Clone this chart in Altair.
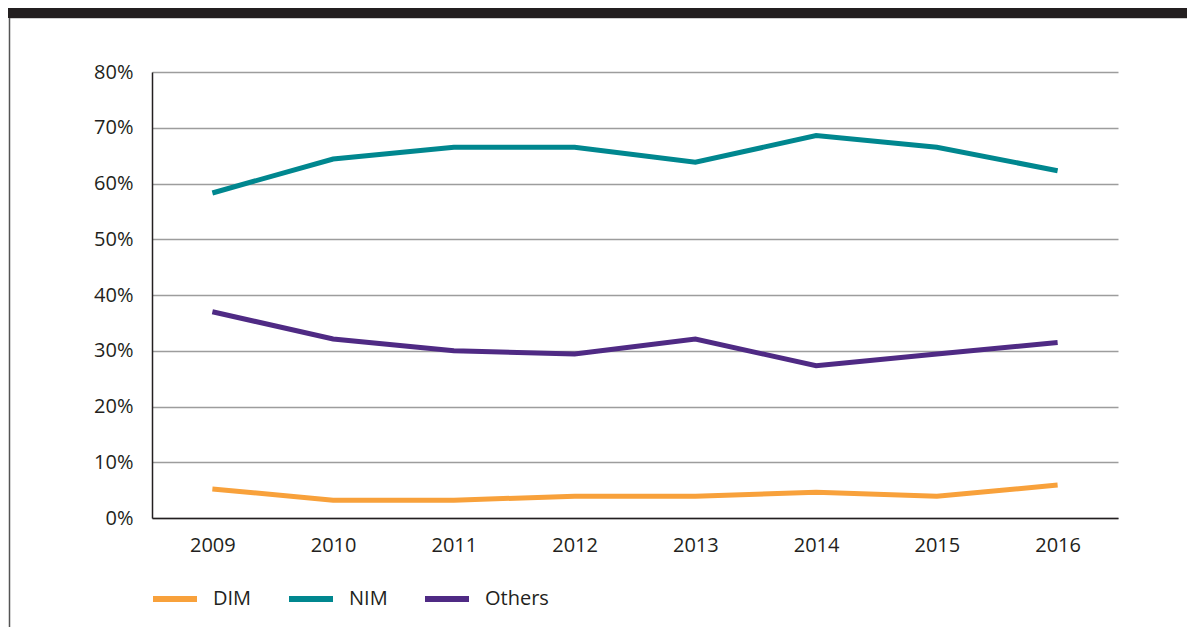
import altair as alt
import pandas as pd

years = ["2009", "2010", "2011", "2012", "2013", "2014", "2015", "2016"]
dim = [5.2, 3.2, 3.2, 3.9, 3.9, 4.6, 3.9, 5.9]
nim = [58.3, 64.4, 66.5, 66.5, 63.8, 68.6, 66.5, 62.3]
others = [37.0, 32.1, 30.0, 29.4, 32.1, 27.3, 29.4, 31.5]
series_names = ["DIM", "NIM", "Others"]
series_colors = ["#F8A13B", "#00878F", "#4F2A84"]
y_ticks = [0, 10, 20, 30, 40, 50, 60, 70, 80]

rows = []
for name, vals in zip(series_names, [dim, nim, others]):
    for yr, v in zip(years, vals):
        rows.append({"Year": yr, "Series": name, "Share": v})
df = pd.DataFrame(rows)

FONT = "Open Sans"
TXT = "#231f20"
FS = 20
W, H = 966, 446
PL, PT, PR, PB = 144, 64, 1179 - 144 - 966, 619 - 64 - 446

lines = alt.Chart(df).mark_line(strokeWidth=5, strokeCap="butt", strokeJoin="miter").encode(
    x=alt.X("Year:N", sort=years,
            scale=alt.Scale(type="point", padding=0.5),
            axis=alt.Axis(title=None, labelAngle=0, ticks=False, tickSize=0, grid=False,
                          domainColor=TXT, domainWidth=1.5, labelPadding=17,
                          labelFont=FONT, labelFontSize=FS, labelColor=TXT)),
    y=alt.Y("Share:Q", scale=alt.Scale(domain=[0, 80], nice=False),
            axis=alt.Axis(title=None, values=y_ticks, ticks=False, tickSize=0,
                          labelExpr="datum.value + '%'",
                          grid=True, gridColor="#9d9d9d", gridWidth=1.3,
                          domainColor=TXT, domainWidth=1.5, labelPadding=19,
                          labelFont=FONT, labelFontSize=FS, labelColor=TXT)),
    color=alt.Color("Series:N",
                    scale=alt.Scale(domain=series_names, range=series_colors),
                    legend=alt.Legend(title=None, orient="none", direction="horizontal",
                                      legendX=-2, legendY=502, padding=0,
                                      symbolType="stroke", symbolSize=1936,
                                      symbolStrokeWidth=6, labelOffset=13,
                                      columnPadding=25,
                                      labelFont=FONT, labelFontSize=FS,
                                      labelColor=TXT)),
)

deco = alt.Data(values=[{"k": 0}])
header = alt.Chart(deco).mark_rect(color="#231f20").encode(
    x=alt.value(-PL), x2=alt.value(W + PR), y=alt.value(-PT), y2=alt.value(-54)
)
header_line = alt.Chart(deco).mark_rule(color="#cfcfcf", strokeWidth=1).encode(
    x=alt.value(-PL + 1), x2=alt.value(W + PR), y=alt.value(-53.5)
)
left_border = alt.Chart(deco).mark_rule(color="#555555", strokeWidth=1.5).encode(
    x=alt.value(-PL + 1.5), y=alt.value(-54), y2=alt.value(H + PB)
)

chart = alt.layer(header, header_line, left_border, lines).properties(
    width=W, height=H,
    autosize=alt.AutoSizeParams(type="none"),
    padding={"left": PL, "top": PT, "right": PR, "bottom": PB},
    background="white",
).configure_view(stroke=None)

chart.save("out.html", embed_options={"renderer": "svg", "actions": False})
